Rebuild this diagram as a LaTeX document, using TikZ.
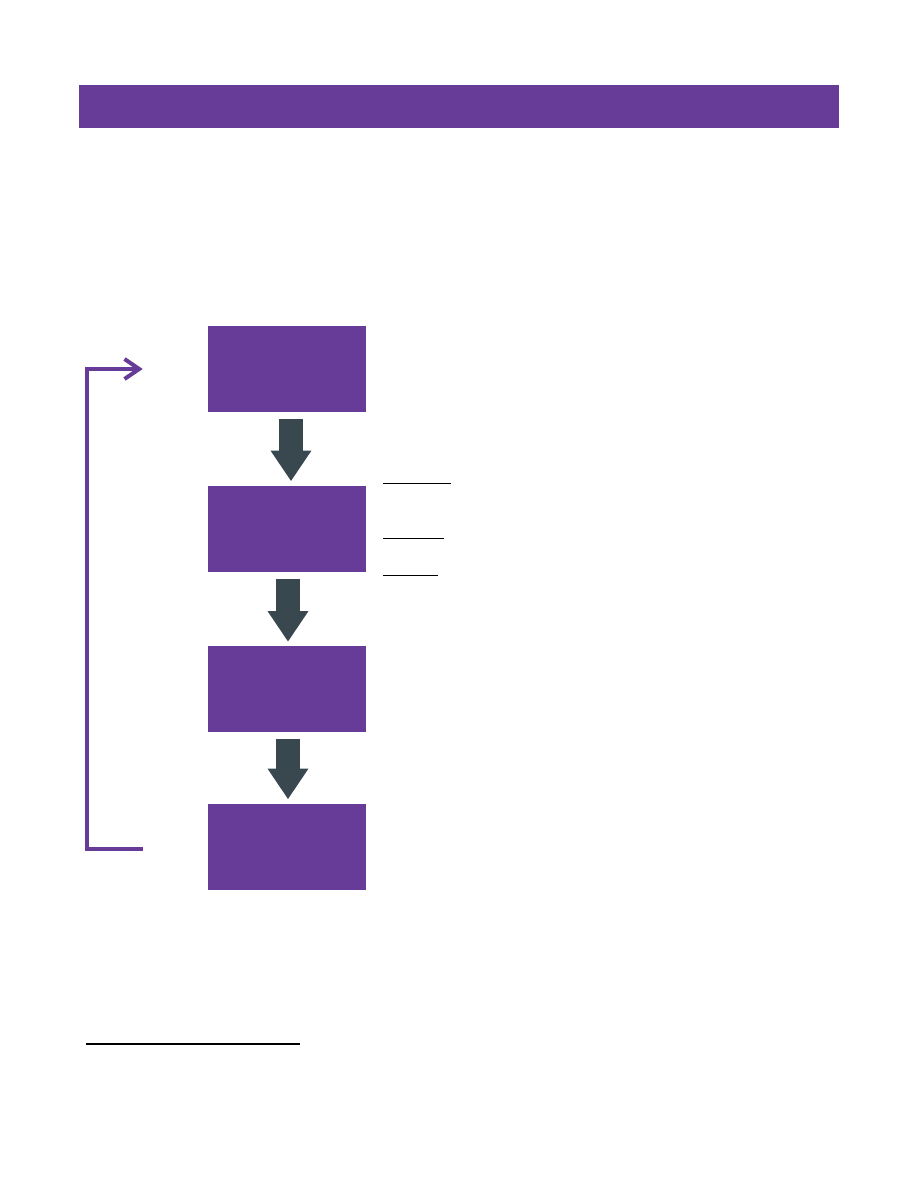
\documentclass[tikz,border=0pt]{standalone}
\usetikzlibrary{calc,positioning,arrows.meta}
\definecolor{cPurple}{HTML}{673C98}
\definecolor{cSlate}{HTML}{39474F}

\begin{document}
\begin{tikzpicture}[x=0.75pt,y=-0.75pt,
    stepbox/.style={fill=cPurple,minimum width=118.5pt,minimum height=64.5pt,inner sep=0pt},
    blockarrow/.style={cSlate,line width=18pt,-{Triangle[length=23pt,width=29pt]}},
    loopline/.style={cPurple,line width=3pt,-{Straight Barb[length=11pt,width=15pt]}}]

\useasboundingbox (0,0) rectangle (918,1188);

% header bar
\fill[cPurple] (79,85) rectangle (839,128);

\node[stepbox] (cBoxA) at (287,369) {};
\node[stepbox,below=54.75pt of cBoxA] (cBoxB) {};
\node[stepbox,below=55.5pt of cBoxB] (cBoxC) {};
\node[stepbox,below=53.25pt of cBoxC] (cBoxD) {};

\foreach \u/\v/\dx in
{cBoxA/cBoxB/4,
    cBoxB/cBoxC/1,
    cBoxC/cBoxD/1
}
{
    \draw[blockarrow] ($(\u.south)+(\dx,7)$) -- ($(\v.north)+(\dx,-4)$);
};

% loop back
\draw[loopline] ($(cBoxD.west)+(-65,2)$) -- ++(-56,0) |- ($(cBoxA.west)+(-65,0)$);

% short rules beside the second box
\foreach \dy/\len in {-2/68, 53/61, 90/55}
{
    \draw[line width=0.8pt] ($(cBoxB.north east)+(17,\dy)$) -- ++(\len,0);
};

\draw[line width=0.8pt] (86,1044) -- (300,1044);

\end{tikzpicture}
\end{document}
